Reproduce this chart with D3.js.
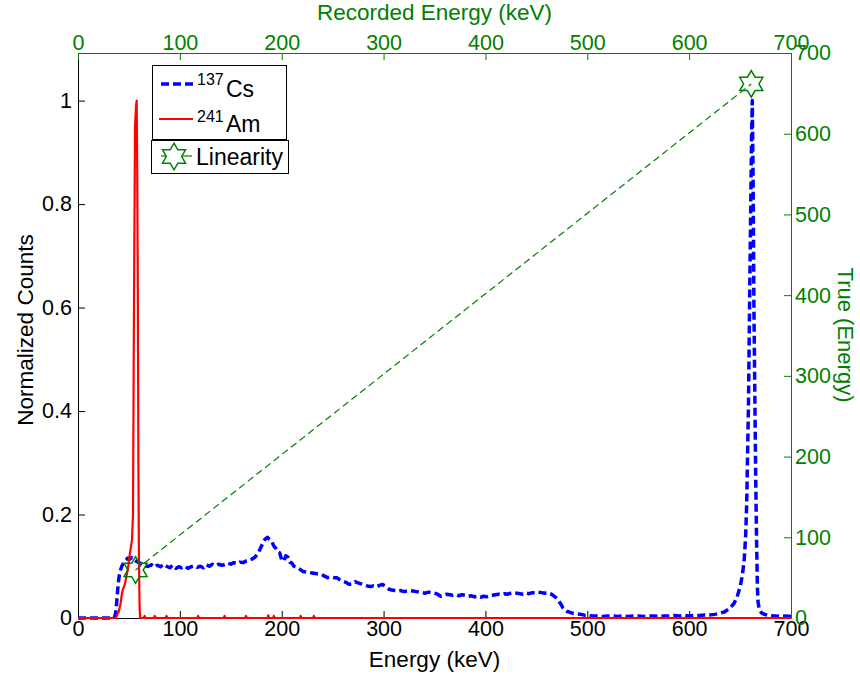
<!DOCTYPE html>
<html><head><meta charset="utf-8">
<script src="https://cdn.jsdelivr.net/npm/d3@7"></script>
<style>
body{margin:0;background:#fff}
svg{display:block}
text{font-family:"Liberation Sans",Arial,Helvetica,sans-serif}
</style>
</head><body>
<svg id="chart" width="860" height="678"></svg>
<script>
// ---------- data ----------
const energyTicks = [0,100,200,300,400,500,600,700];
const recordedTicks = [0,100,200,300,400,500,600,700];
const trueTicks = [0,100,200,300,400,500,600,700];
const countTicks = [0,0.2,0.4,0.6,0.8,1];
const countTickLabels = ["0","0.2","0.4","0.6","0.8","1"];

const csEnergy = [0,10,20,30,35,36,37,38,39,40,41,43,45,47,49,51,53,55,57,59,61,63,66,69,72,75,78,81,84,87,90,93,96,99,102,105,108,111,114,117,120,123,126,129,132,135,138,141,144,147,150,153,156,159,162,165,168,171,174,177,180,182,184,186,188,190,192,194,196,198,200,202,204,206,208,210,212,215,218,221,224,227,230,233,236,239,242,245,248,251,254,257,260,263,266,269,272,275,278,281,284,287,290,293,296,299,302,305,308,311,314,317,320,323,326,329,332,335,338,341,344,347,350,353,356,359,362,365,368,371,374,377,380,383,386,389,392,395,398,401,404,407,410,413,416,419,422,425,428,431,434,437,440,443,446,449,452,455,458,461,464,467,470,472,474,476,478,480,483,486,490,494,498,500,505,510,515,520,525,530,535,540,545,550,555,560,565,570,575,580,585,590,595,600,605,610,615,620,625,630,635,640,644,647,650,652,654,655.5,656.5,657.5,658.3,659.3,660.5,661.3,662,662.8,663.6,664.6,665.5,666.2,667,667.7,669,671,674,678,684,690,695,700];
const csCounts = [0,0,0,0,0,0.002,0.01,0.03,0.055,0.075,0.088,0.1,0.107,0.112,0.116,0.114,0.117,0.113,0.11,0.108,0.106,0.104,0.1,0.1,0.103,0.098,0.102,0.099,0.104,0.1,0.097,0.102,0.096,0.099,0.097,0.1,0.096,0.099,0.101,0.098,0.1,0.097,0.103,0.1,0.104,0.101,0.104,0.102,0.103,0.106,0.104,0.107,0.105,0.108,0.107,0.11,0.111,0.114,0.118,0.126,0.138,0.148,0.153,0.156,0.152,0.149,0.14,0.135,0.128,0.126,0.112,0.11,0.12,0.118,0.108,0.106,0.1,0.097,0.094,0.09,0.089,0.088,0.087,0.086,0.085,0.084,0.081,0.078,0.079,0.078,0.078,0.074,0.071,0.069,0.065,0.066,0.07,0.068,0.066,0.064,0.062,0.061,0.062,0.06,0.063,0.065,0.061,0.056,0.054,0.053,0.052,0.053,0.051,0.052,0.053,0.052,0.051,0.05,0.049,0.048,0.05,0.049,0.048,0.046,0.042,0.044,0.046,0.045,0.044,0.045,0.043,0.045,0.044,0.042,0.043,0.041,0.042,0.04,0.042,0.041,0.043,0.044,0.045,0.046,0.045,0.047,0.046,0.048,0.049,0.048,0.047,0.046,0.048,0.047,0.049,0.048,0.05,0.049,0.048,0.049,0.047,0.043,0.038,0.033,0.027,0.02,0.016,0.013,0.011,0.009,0.008,0.007,0.005,0.005,0.004,0.004,0.003,0.004,0.004,0.003,0.004,0.003,0.004,0.004,0.003,0.004,0.004,0.003,0.004,0.004,0.005,0.004,0.005,0.004,0.005,0.005,0.006,0.006,0.007,0.009,0.012,0.019,0.028,0.04,0.06,0.08,0.11,0.16,0.22,0.33,0.42,0.6,0.8,0.93,1.0,0.85,0.6,0.41,0.25,0.15,0.06,0.03,0.016,0.01,0.007,0.005,0.004,0.003,0.004,0.003];

const amEnergy = [0,37,38,40,42,43,44,46,48,49,50,51,52,53,54,54.7,55.3,56,57,57.6,58.2,58.8,59.3,59.8,60.5,61,64.5,65.4,66.3,74.5,75.4,76.3,86,86.9,87.8,117,117.9,118.8,143,143.9,144.8,164,164.9,165.8,186,186.8,187.6,191.5,192.3,193.1,217.8,218.6,219.4,230.8,231.6,232.4,700];
const amCounts  = [0,0,0.004,0.012,0.03,0.045,0.055,0.065,0.085,0.095,0.11,0.125,0.138,0.15,0.2,0.5,0.72,0.95,0.99,1.0,0.85,0.6,0.3,0.12,0.02,0,0,0.004,0,0,0.004,0,0,0.004,0,0,0.004,0,0,0.004,0,0,0.004,0,0,0.005,0,0,0.004,0,0,0.004,0,0,0.004,0,0];

const linRecorded = [56.5, 661];
const linTrue = [59.5, 661.7];

const legendSup = ["137","241"];
const legendMain = ["Cs","Am","Linearity"];

// ---------- setup ----------
const svg = d3.select("#chart");
const green = "#008000";
const L = 78, R = 791, T = 53, B = 618;
const x = d3.scaleLinear().domain([0,700]).range([L,R]);
const yL = d3.scaleLinear().domain([0,1.092]).range([B,T]);
const yR = d3.scaleLinear().domain([0,700]).range([B,T]);

function styleAxis(g, color, fs){
  g.attr("font-size", null).attr("font-family", null);
  g.select(".domain").attr("stroke", color).attr("stroke-width", 1);
  g.selectAll(".tick line").attr("stroke", color).attr("stroke-width", 1);
  g.selectAll(".tick text").attr("fill", color).style("font-size", fs + "px");
}

// axes
const gBottom = svg.append("g").attr("transform", `translate(0,${B})`)
  .call(d3.axisBottom(x).tickValues(energyTicks).tickFormat(d3.format("d")).tickSizeInner(-7).tickSizeOuter(0).tickPadding(3));
styleAxis(gBottom, "#000", 21.5);

const gLeft = svg.append("g").attr("transform", `translate(${L},0)`)
  .call(d3.axisLeft(yL).tickValues(countTicks).tickFormat((d,i)=>countTickLabels[i]).tickSizeInner(-7).tickSizeOuter(0).tickPadding(6));
styleAxis(gLeft, "#000", 21.5);

const gTop = svg.append("g").attr("transform", `translate(0,${T})`)
  .call(d3.axisTop(x).tickValues(recordedTicks).tickFormat(d3.format("d")).tickSizeInner(-7).tickSizeOuter(0).tickPadding(3));
styleAxis(gTop, green, 21.5);

const gRight = svg.append("g").attr("transform", `translate(${R},0)`)
  .call(d3.axisRight(yR).tickValues(trueTicks).tickFormat(d3.format("d")).tickSizeInner(-7).tickSizeOuter(0).tickPadding(4));
styleAxis(gRight, green, 21.5);

// axis labels
svg.append("text").attr("x", (L+R)/2).attr("y", 20).attr("text-anchor","middle")
  .attr("fill", green).style("font-size","22.5px").text("Recorded Energy (keV)");
svg.append("text").attr("x", (L+R)/2).attr("y", 667).attr("text-anchor","middle")
  .attr("fill", "#000").style("font-size","22.5px").text("Energy (keV)");
svg.append("text").attr("transform","translate(33,330) rotate(-90)").attr("text-anchor","middle")
  .attr("fill", "#000").style("font-size","22.5px").text("Normalized Counts");
svg.append("text").attr("transform","translate(838,335) rotate(90)").attr("text-anchor","middle")
  .attr("fill", green).style("font-size","22px").text("True (Energy)");

// series
const csData = csEnergy.map((e,i)=>[e, csCounts[i]]);
const amData = amEnergy.map((e,i)=>[e, amCounts[i]]);
const lineL = d3.line().x(d=>x(d[0])).y(d=>yL(d[1]));

svg.append("path").datum(csData).attr("d", lineL)
  .attr("fill","none").attr("stroke","#0000ff").attr("stroke-width",3.5)
  .attr("stroke-dasharray","8,4").attr("stroke-linejoin","round");

svg.append("path").datum(amData).attr("d", lineL)
  .attr("fill","none").attr("stroke","#ff0000").attr("stroke-width",2.2)
  .attr("stroke-linejoin","round");

// linearity
const linData = linRecorded.map((r,i)=>[r, linTrue[i]]);
const lineR = d3.line().x(d=>x(d[0])).y(d=>yR(d[1]));
svg.append("path").datum(linData).attr("d", lineR)
  .attr("fill","none").attr("stroke",green).attr("stroke-width",1.2)
  .attr("stroke-dasharray","7,4");

function hexagram(Ro, Ri){
  const pts = [];
  for (let k=0;k<12;k++){
    const a = -Math.PI/2 + k*Math.PI/6;
    const r = k%2===0 ? Ro : Ri;
    pts.push([r*Math.cos(a), r*Math.sin(a)]);
  }
  return "M" + pts.map(p=>p[0].toFixed(2)+","+p[1].toFixed(2)).join("L") + "Z";
}
const starPath = hexagram(13.3, 7.7);
svg.selectAll(".star").data(linData).enter().append("path")
  .attr("class","star")
  .attr("transform", d=>`translate(${x(d[0])},${yR(d[1])})`)
  .attr("d", starPath).attr("fill","none").attr("stroke",green).attr("stroke-width",1.5);

// legend
const lg = svg.append("g");
lg.append("rect").attr("x",152.5).attr("y",65.5).attr("width",134).attr("height",74)
  .attr("fill","#fff").attr("stroke","#000").attr("stroke-width",1);
lg.append("rect").attr("x",151.5).attr("y",140.5).attr("width",137).attr("height",33)
  .attr("fill","#fff").attr("stroke","#000").attr("stroke-width",1);

lg.append("line").attr("x1",161).attr("x2",194).attr("y1",84).attr("y2",84)
  .attr("stroke","#0000ff").attr("stroke-width",3.5).attr("stroke-dasharray","8,4");
lg.append("line").attr("x1",159).attr("x2",193).attr("y1",119).attr("y2",119)
  .attr("stroke","#ff0000").attr("stroke-width",2);
lg.append("line").attr("x1",161).attr("x2",192).attr("y1",156).attr("y2",156)
  .attr("stroke",green).attr("stroke-width",1.2);
lg.append("path").attr("transform","translate(174,156.5)").attr("d", hexagram(13.3,7.7))
  .attr("fill","#fff").attr("stroke",green).attr("stroke-width",1.5);

const supY = [85, 122], mainY = [96.5, 131.5];
legendSup.forEach((s,i)=>{
  lg.append("text").attr("x",197).attr("y",supY[i]).style("font-size","16px").attr("fill","#000").text(s);
  lg.append("text").attr("x",226).attr("y",mainY[i]).style("font-size","23px").attr("fill","#000").text(legendMain[i]);
});
lg.append("text").attr("x",196).attr("y",165).style("font-size","23px").attr("fill","#000").text(legendMain[2]);
</script>
</body></html>
